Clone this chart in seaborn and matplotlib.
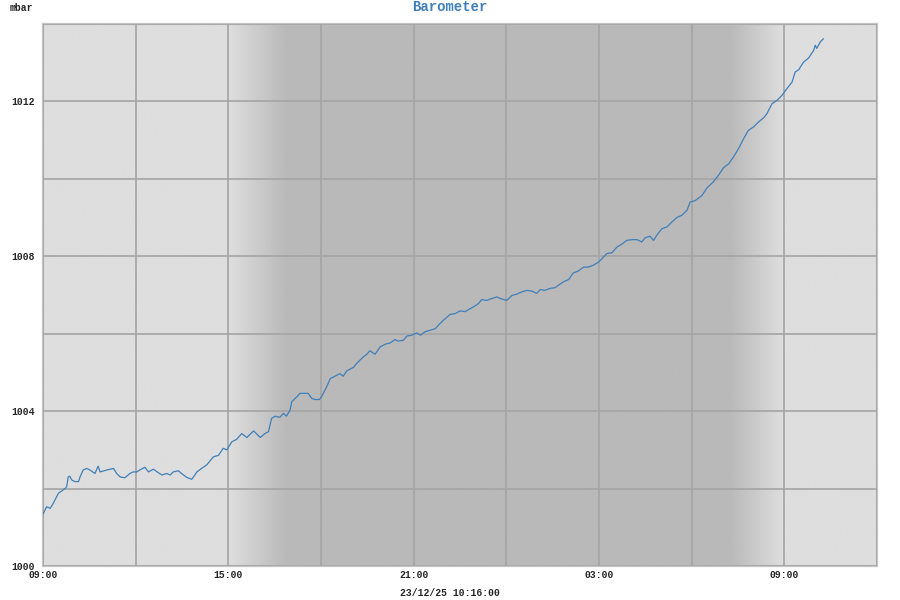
import numpy as np
import pandas as pd
import matplotlib
matplotlib.use("Agg")
import matplotlib.pyplot as plt
import matplotlib.dates as mdates
import seaborn as sns

# Barometer readings, minutes after 22/12/25 09:00
minutes = [0, 7, 14, 20, 30, 43, 46, 49, 52, 56, 62, 69, 72, 78, 85, 91, 101, 107, 111, 124,
           137, 143, 150, 159, 169, 175, 182, 188, 198, 205, 214, 231, 240, 247, 253, 263, 269,
           279, 289, 299, 308, 318, 331, 341, 350, 357, 367, 376, 386, 396, 409, 415, 422, 431,
           438, 444, 451, 460, 467, 473, 480, 483, 493, 499, 515, 522, 528, 537, 541, 551, 558,
           571, 577, 583, 590, 603, 609, 622, 629, 635, 645, 655, 665, 674, 684, 690, 700, 707,
           716, 726, 733, 742, 752, 762, 771, 778, 791, 801, 810, 820, 826, 836, 846, 852, 862,
           872, 882, 888, 901, 911, 920, 930, 940, 950, 959, 966, 975, 985, 995, 1001, 1011,
           1021, 1030, 1040, 1050, 1059, 1069, 1079, 1086, 1095, 1105, 1115, 1124, 1134, 1144,
           1154, 1163, 1170, 1179, 1186, 1192, 1202, 1212, 1222, 1231, 1241, 1251, 1257, 1267,
           1280, 1290, 1302, 1312, 1322, 1332, 1341, 1351, 1361, 1370, 1380, 1390, 1400, 1406,
           1416, 1426, 1435, 1445, 1455, 1461, 1468, 1477, 1487, 1497, 1500, 1503, 1510, 1516]
pressure = [1001.34, 1001.53, 1001.49, 1001.62, 1001.88, 1002.00, 1002.05, 1002.30, 1002.32,
            1002.22, 1002.18, 1002.18, 1002.30, 1002.48, 1002.52, 1002.48, 1002.39, 1002.58,
            1002.43, 1002.48, 1002.52, 1002.39, 1002.30, 1002.28, 1002.39, 1002.43, 1002.43,
            1002.48, 1002.55, 1002.43, 1002.50, 1002.35, 1002.39, 1002.35, 1002.43, 1002.46,
            1002.39, 1002.29, 1002.24, 1002.43, 1002.52, 1002.61, 1002.82, 1002.86, 1003.04,
            1003.00, 1003.21, 1003.27, 1003.42, 1003.32, 1003.49, 1003.41, 1003.32, 1003.42,
            1003.47, 1003.81, 1003.87, 1003.84, 1003.94, 1003.87, 1004.03, 1004.24, 1004.37,
            1004.46, 1004.46, 1004.33, 1004.30, 1004.30, 1004.37, 1004.63, 1004.84, 1004.93,
            1004.97, 1004.90, 1005.04, 1005.13, 1005.23, 1005.40, 1005.47, 1005.56, 1005.47,
            1005.66, 1005.73, 1005.76, 1005.85, 1005.81, 1005.83, 1005.94, 1005.96, 1006.02,
            1005.96, 1006.05, 1006.09, 1006.13, 1006.26, 1006.35, 1006.50, 1006.52, 1006.59,
            1006.57, 1006.62, 1006.69, 1006.78, 1006.88, 1006.86, 1006.91, 1006.95, 1006.91,
            1006.86, 1006.99, 1007.02, 1007.08, 1007.12, 1007.10, 1007.04, 1007.14, 1007.12,
            1007.17, 1007.19, 1007.25, 1007.34, 1007.40, 1007.57, 1007.62, 1007.72, 1007.72,
            1007.77, 1007.85, 1007.94, 1008.07, 1008.09, 1008.24, 1008.31, 1008.41, 1008.43,
            1008.43, 1008.37, 1008.48, 1008.52, 1008.41, 1008.54, 1008.71, 1008.76, 1008.89,
            1009.00, 1009.06, 1009.19, 1009.40, 1009.44, 1009.57, 1009.77, 1009.92, 1010.09,
            1010.29, 1010.39, 1010.56, 1010.78, 1011.04, 1011.25, 1011.34, 1011.47, 1011.58,
            1011.68, 1011.94, 1012.03, 1012.15, 1012.33, 1012.50, 1012.76, 1012.82, 1013.01,
            1013.12, 1013.32, 1013.45, 1013.37, 1013.54, 1013.62]

start = pd.Timestamp("2025-12-22 09:00")
end = pd.Timestamp("2025-12-23 12:00")
# twilight bands (light -> dark at dusk, dark -> light at dawn)
dusk_start = pd.Timestamp("2025-12-22 15:00")
dusk_end = pd.Timestamp("2025-12-22 16:53")
dawn_start = pd.Timestamp("2025-12-23 07:15")
dawn_end = pd.Timestamp("2025-12-23 09:00")
stamp = "23/12/25 10:16:00"

df = pd.DataFrame({"time": start + pd.to_timedelta(minutes, unit="min"), "mbar": pressure})

sns.set_style("white")
plt.rcParams["font.family"] = ["Liberation Mono", "DejaVu Sans Mono"]
plt.rcParams["font.weight"] = "bold"

fig = plt.figure(figsize=(9, 6), dpi=100)
ax = fig.add_axes([43 / 900, 34 / 600, 834 / 900, 542 / 600])

# day/night background
x0, x1 = mdates.date2num(start), mdates.date2num(end)
xs = np.linspace(x0, x1, 2000)
shade = np.interp(xs, mdates.date2num([dusk_start, dusk_end, dawn_start, dawn_end]),
                  [0.871, 0.725, 0.725, 0.871])
ax.imshow(np.tile(shade, (2, 1)), cmap="gray", vmin=0, vmax=1, aspect="auto",
          extent=[x0, x1, 1000, 1014], zorder=0, interpolation="bilinear")

sns.lineplot(data=df, x="time", y="mbar", ax=ax, color="#3f7fba", lw=0.9, zorder=3)

ax.set_xlim(x0, x1)
ax.set_ylim(1000, 1014)
ax.set_yticks(np.arange(1000, 1015, 2))
ax.set_yticklabels([str(v) if v % 4 == 0 and v < 1014 else "" for v in range(1000, 1015, 2)])
ax.xaxis.set_major_locator(mdates.HourLocator(byhour=[0, 3, 6, 9, 12, 15, 18, 21]))
ax.xaxis.set_major_formatter(plt.FuncFormatter(
    lambda v, p: mdates.num2date(v).strftime("%H:%M") if mdates.num2date(v).hour % 6 == 3 else ""))
ax.grid(True, color="#a4a4a4", lw=1.2, zorder=1)
ax.set_axisbelow(False)
for gl in ax.get_xgridlines() + ax.get_ygridlines():
    gl.set_zorder(1)
ax.tick_params(length=0, labelsize=7, pad=3)
ax.tick_params(axis="y", pad=6)
ax.set_xlabel("")
ax.set_ylabel("")
for s in ax.spines.values():
    s.set_color("#c4c4c4")
    s.set_linewidth(1.6)

fig.text(0.5, 1 - 7 / 600, "Barometer", ha="center", va="center", color="#3f7fba",
         fontsize=10, fontweight="bold")
fig.text(10 / 900, 1 - 8 / 600, "mbar", ha="left", va="center", fontsize=7, fontweight="bold")
fig.text(0.5, 1 - 593 / 600, stamp, ha="center", va="center", fontsize=7, fontweight="bold")

fig.savefig("out.png", dpi=100, facecolor="white")
